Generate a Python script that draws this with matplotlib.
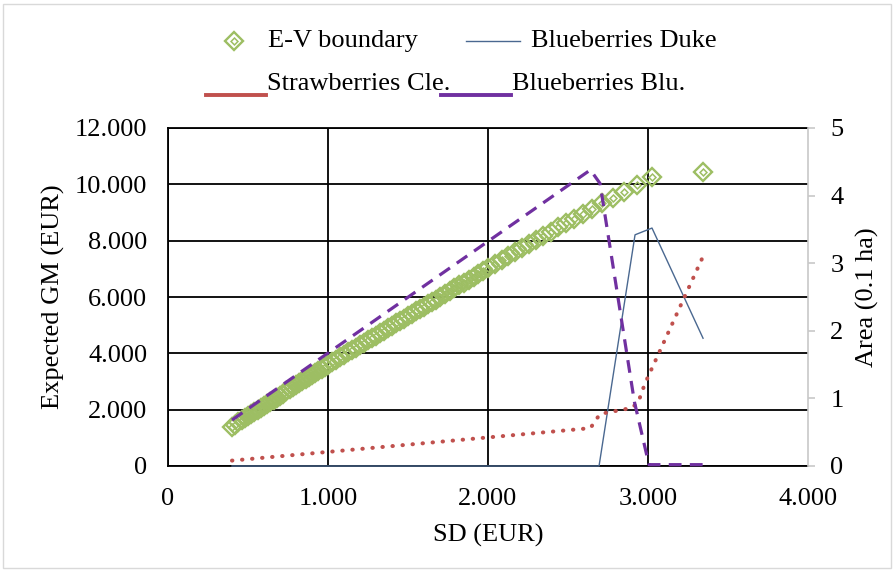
"""E-V boundary with crop areas on a secondary axis."""

import matplotlib

matplotlib.use("Agg")
import matplotlib.pyplot as plt
from matplotlib.lines import Line2D
from matplotlib.patches import Rectangle
from matplotlib.ticker import FuncFormatter

plt.rcParams["font.family"] = ["Liberation Serif", "DejaVu Serif"]

# E-V boundary: SD (EUR) and expected gross margin (EUR)
sd_frontier = [
    400, 420, 440, 460, 480, 500, 520, 540, 560, 580, 600, 620, 640, 660, 680,
    700, 720, 740, 760, 780, 800, 820, 840, 860, 880, 900, 920, 940, 960, 980,
    1000, 1025, 1050, 1075, 1100, 1125, 1150, 1175, 1200, 1225, 1250, 1275,
    1300, 1325, 1350, 1375, 1400, 1425, 1450, 1475, 1500, 1525, 1550, 1575,
    1600, 1625, 1650, 1675, 1700, 1730, 1760, 1790, 1820, 1850, 1880, 1910,
    1940, 1970, 2000, 2044, 2086, 2127, 2169, 2211, 2256, 2300, 2346, 2392,
    2439, 2488, 2539, 2592, 2648, 2711, 2779, 2850, 2929, 3023, 3344,
]
gm_frontier = [
    1400, 1470, 1550, 1620, 1690, 1770, 1840, 1910, 1990, 2060, 2130, 2210,
    2280, 2350, 2430, 2500, 2570, 2650, 2720, 2790, 2870, 2940, 3010, 3090,
    3160, 3230, 3310, 3380, 3450, 3530, 3600, 3690, 3770, 3860, 3940, 4030,
    4110, 4200, 4290, 4370, 4460, 4540, 4630, 4710, 4800, 4890, 4970, 5060,
    5140, 5230, 5310, 5400, 5490, 5570, 5660, 5740, 5830, 5910, 6000, 6100,
    6200, 6310, 6410, 6510, 6610, 6710, 6820, 6920, 7020, 7170, 7310, 7450,
    7590, 7730, 7880, 8030, 8180, 8320, 8470, 8620, 8780, 8950, 9120, 9320,
    9520, 9740, 9980, 10270, 10440,
]

# crop areas (0.1 ha), secondary axis
sd_duke = [400, 2694, 2919, 3025, 3344]
area_duke = [0.0, 0.0, 3.42, 3.52, 1.89]
sd_cle = [400, 2640, 2700, 2900, 2940, 2981, 3344]
area_cle = [0.08, 0.56, 0.77, 0.86, 0.95, 1.22, 3.10]
sd_blu = [400, 2640, 2700, 2915, 3006, 3344]
area_blu = [0.68, 4.38, 4.18, 0.95, 0.02, 0.02]

sd_ticks = [0, 1000, 2000, 3000, 4000]
gm_ticks = [0, 2000, 4000, 6000, 8000, 10000, 12000]
area_ticks = [0, 1, 2, 3, 4, 5]

GREEN = "#9DBE63"
BLUE = "#4A6890"
RED = "#C0504D"
PURPLE = "#7030A0"
FS = 19
W, H = 895, 571

# Excel-style diamond: outer outline plus a small inner outline
OUTER = dict(ls="none", marker="D", ms=9.5, mfc="none", mec=GREEN, mew=1.7)
INNER = dict(ls="none", marker="D", ms=3.5, mfc="none", mec=GREEN, mew=1.1)


def euro_thousands(v, _pos):
    return f"{v:,.0f}".replace(",", ".")


fig = plt.figure(figsize=(W / 100, H / 100), dpi=100)
ax = fig.add_axes([168 / W, 1 - 466 / H, 640 / W, 338 / H])
ax2 = ax.twinx()

ax.plot(sd_frontier, gm_frontier, zorder=3, **OUTER)
ax.plot(sd_frontier, gm_frontier, zorder=3, **INNER)

ax2.plot(sd_duke, area_duke, color=BLUE, lw=1.0, clip_on=False)
ax2.plot(sd_cle, area_cle, color=RED, lw=2.9, dashes=(0.1, 2.4),
         dash_capstyle="round", clip_on=False)
ax2.plot(sd_blu, area_blu, color=PURPLE, lw=2.3, dashes=(4, 2.6),
         clip_on=False)

ax.set_xlim(0, 4000)
ax.set_ylim(0, 12000)
ax2.set_ylim(0, 5)
ax.set_xticks(sd_ticks)
ax.set_yticks(gm_ticks)
ax2.set_yticks(area_ticks)
ax.xaxis.set_major_formatter(FuncFormatter(euro_thousands))
ax.yaxis.set_major_formatter(FuncFormatter(euro_thousands))

ax.grid(True, color="black", lw=1.3)
ax.set_axisbelow(True)
ax.get_xgridlines()[-1].set_visible(False)

for side in ("left", "top", "bottom"):
    ax.spines[side].set_color("black")
    ax.spines[side].set_linewidth(1.3)
ax.spines["right"].set_visible(False)
for side in ("left", "top", "bottom"):
    ax2.spines[side].set_visible(False)
ax2.spines["right"].set_color("#C8C8C8")
ax2.spines["right"].set_linewidth(1.2)

ax.tick_params(axis="x", length=0, labelsize=FS, pad=16)
ax.tick_params(axis="y", length=0, labelsize=FS, pad=15)
ax2.tick_params(axis="y", length=5, width=1.2, color="#C8C8C8",
                labelsize=FS, pad=11)

ax.set_xlabel("SD (EUR)", fontsize=FS)
ax.set_ylabel("Expected GM (EUR)", fontsize=FS)
ax2.set_ylabel("Area (0.1 ha)", fontsize=FS)
ax.xaxis.set_label_coords(0.5, (466 - 524) / 338)
ax.yaxis.set_label_coords((65 - 168) / 640, 0.5)
ax2.yaxis.set_label_coords((856 - 168) / 640, 0.5)

# legend drawn by hand to match the two-row layout
for style in (OUTER, INNER):
    fig.add_artist(Line2D([234 / W], [1 - 41 / H],
                          transform=fig.transFigure, **style))
fig.text(268 / W, 1 - 41 / H, "E-V boundary", fontsize=FS, va="center")
fig.add_artist(Line2D([466 / W, 520 / W], [1 - 41 / H] * 2, color=BLUE,
                      lw=1.0, transform=fig.transFigure))
fig.text(531 / W, 1 - 41 / H, "Blueberries Duke", fontsize=FS, va="center")
fig.add_artist(Line2D([206 / W, 266 / W], [1 - 95 / H] * 2, color=RED,
                      lw=2.8, transform=fig.transFigure))
fig.text(267 / W, 1 - 84 / H, "Strawberries Cle.", fontsize=FS, va="center")
fig.add_artist(Line2D([441 / W, 511 / W], [1 - 95 / H] * 2, color=PURPLE,
                      lw=2.8, transform=fig.transFigure))
fig.text(512 / W, 1 - 84 / H, "Blueberries Blu.", fontsize=FS, va="center")

fig.add_artist(Rectangle((3 / W, 3 / H), (W - 7) / W, (H - 7) / H,
                         transform=fig.transFigure, fill=False,
                         edgecolor="#D9D9D9", lw=1))

fig.savefig("out.png", dpi=100)
